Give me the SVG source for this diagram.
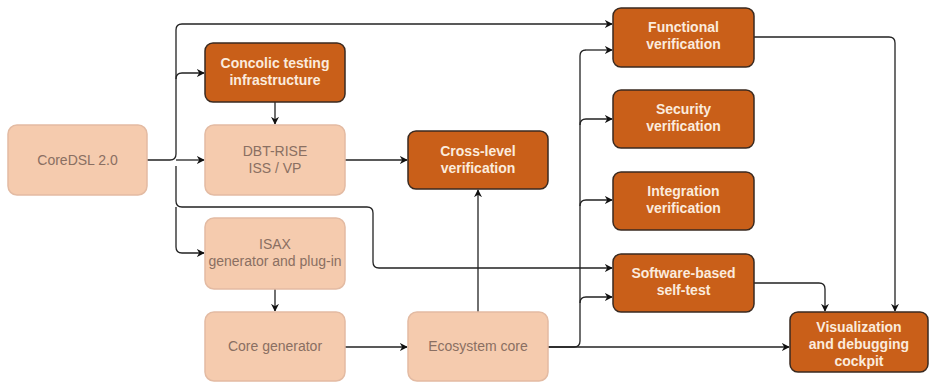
<svg xmlns="http://www.w3.org/2000/svg" width="930" height="382" viewBox="0 0 930 382">
<defs>
<style>
.lt{fill:#F5CBAE;stroke:#E3BBA3;stroke-width:1.5}
.dk{fill:#C95F19;stroke:#3A2A20;stroke-width:1.5}
.tl{font-family:"Liberation Sans",Arial,sans-serif;font-size:14px;fill:#8A6F62;text-anchor:middle}
.td{font-family:"Liberation Sans",Arial,sans-serif;font-size:14px;font-weight:bold;fill:#FBEBDD;text-anchor:middle}
.c{fill:none;stroke:#222;stroke-width:1.3;marker-end:url(#a)}
.n{fill:none;stroke:#222;stroke-width:1.3}
</style>
<marker id="a" viewBox="0 0 10 10" refX="9" refY="5" markerWidth="8" markerHeight="8" markerUnits="userSpaceOnUse" orient="auto"><path d="M0,0 L10,5 L0,10 L3,5 Z" fill="#111"/></marker>
</defs>
<rect width="930" height="382" fill="#fff"/>
<g id="connectors">
<path class="n" d="M147,160 H170 Q176,160 176,154 V30 Q176,24 182,24"/>
<path class="c" d="M182,24 H612"/>
<path class="c" d="M176,79 Q176,73 182,73 H204"/>
<path class="c" d="M176,160 H204"/>
<path class="c" d="M176,166 V201 Q176,207 182,207 H367 Q373,207 373,213 V262 Q373,268 379,268 H612"/>
<path class="c" d="M176,207 V247 Q176,253 182,253 H204"/>
<path class="c" d="M275,102 V124"/>
<path class="c" d="M345,160 H407"/>
<path class="c" d="M478,312 V190"/>
<path class="c" d="M275,289 V311"/>
<path class="c" d="M345,347 H407"/>
<path class="c" d="M548,347 H789"/>
<path class="n" d="M548,347 H574 Q580,347 580,341 V56 Q580,50 586,50"/>
<path class="c" d="M586,50 H612"/>
<path class="c" d="M580,125 Q580,119 586,119 H612"/>
<path class="c" d="M580,206 Q580,200 586,200 H612"/>
<path class="c" d="M580,303 Q580,297 586,297 H612"/>
<path class="c" d="M754,37 H889 Q895,37 895,43 V311"/>
<path class="c" d="M754,283 H819 Q825,283 825,289 V311"/>
</g>
<g id="coredsl"><rect class="lt" x="8" y="125" width="139" height="70" rx="9"/><text class="tl" x="77.5" y="165">CoreDSL 2.0</text></g>
<g id="concolic"><rect class="dk" x="205" y="43" width="140" height="59" rx="8"/><text class="td" x="275" y="68">Concolic testing</text><text class="td" x="275" y="85">infrastructure</text></g>
<g id="dbtrise"><rect class="lt" x="205" y="125" width="140" height="70" rx="9"/><text class="tl" x="275" y="156">DBT-RISE</text><text class="tl" x="275" y="173">ISS / VP</text></g>
<g id="isax"><rect class="lt" x="205" y="218" width="140" height="71" rx="9"/><text class="tl" x="275" y="249">ISAX</text><text class="tl" x="275" y="266">generator and plug-in</text></g>
<g id="coregen"><rect class="lt" x="205" y="312" width="140" height="69" rx="9"/><text class="tl" x="275" y="351">Core generator</text></g>
<g id="crosslevel"><rect class="dk" x="408" y="131" width="140" height="58" rx="8"/><text class="td" x="478" y="156">Cross-level</text><text class="td" x="478" y="173">verification</text></g>
<g id="ecosystem"><rect class="lt" x="408" y="312" width="140" height="69" rx="9"/><text class="tl" x="478" y="351">Ecosystem core</text></g>
<g id="functional"><rect class="dk" x="613" y="8" width="141" height="59" rx="8"/><text class="td" x="683.5" y="32">Functional</text><text class="td" x="683.5" y="49">verification</text></g>
<g id="security"><rect class="dk" x="613" y="90" width="141" height="58" rx="8"/><text class="td" x="683.5" y="114">Security</text><text class="td" x="683.5" y="131">verification</text></g>
<g id="integration"><rect class="dk" x="613" y="172" width="141" height="58" rx="8"/><text class="td" x="683.5" y="196">Integration</text><text class="td" x="683.5" y="213">verification</text></g>
<g id="sbst"><rect class="dk" x="613" y="254" width="141" height="58" rx="8"/><text class="td" x="683.5" y="278">Software-based</text><text class="td" x="683.5" y="295">self-test</text></g>
<g id="cockpit"><rect class="dk" x="790" y="312" width="138" height="60" rx="8"/><text class="td" x="859" y="332">Visualization</text><text class="td" x="859" y="349">and debugging</text><text class="td" x="859" y="366">cockpit</text></g>
</svg>
